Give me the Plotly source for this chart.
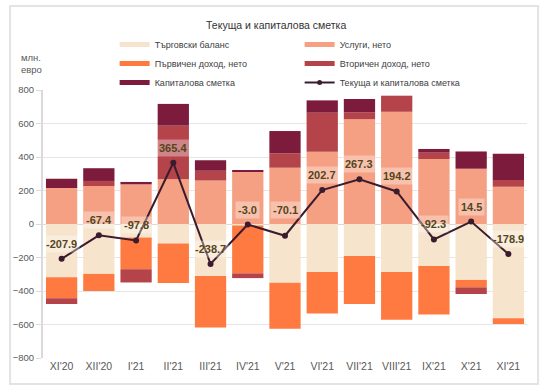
import plotly.graph_objects as go

categories = ["XI'20", "XII'20", "I'21", "II'21", "III'21", "IV'21", "V'21",
              "VI'21", "VII'21", "VIII'21", "IX'21", "X'21", "XI'21"]
trade = [-318, -298, -80, -117, -310, -9, -350, -287, -191, -287, -251, -334, -563]
services = [215, 227, 237, 267, 259, 312, 336, 432, 625, 670, 388, 330, 223]
primary = [-126, -102, -190, -235, -308, -286, -275, -248, -287, -285, -289, -44, -34]
secondary = [-34, 30, -79, 320, 59, -28, 86, 233, 42, 96, 38, -40, 40]
capital = [55, 76, 14, 130, 62, 8, 133, 73, 79, 0, 22, 103, 156]
total = [-207.9, -67.4, -97.8, 365.4, -238.7, -3.0, -70.1, 202.7, 267.3, 194.2, -92.3, 14.5, -178.9]

names = ["Търговски баланс", "Услуги, нето", "Първичен доход, нето",
         "Вторичен доход, нето", "Капиталова сметка", "Текуща и капиталова сметка"]
colors = ["#F6E4CC", "#F5A083", "#FF7A40", "#B5434A", "#7D1B3C", "#3A1C2E"]
label_shift = [15, 15, 15, 15, 15, 15, 26, 15, 15, 15, 15, 15, 15]

FONT = "Liberation Sans, Arial, sans-serif"

fig = go.Figure()
series = [trade, services, primary, secondary, capital]
for name, vals, col in zip(names[:5], series, colors[:5]):
    fig.add_trace(go.Bar(x=categories, y=vals, name=name, marker_color=col,
                         marker_line_width=0, showlegend=False, hoverinfo="y+name"))

fig.add_trace(go.Scatter(x=categories, y=total, mode="lines+markers", name=names[5],
                         line=dict(color=colors[5], width=2),
                         marker=dict(size=6, color=colors[5]), showlegend=False))

# legend entries (wide line symbols like the reference)
for name, col in zip(names[:5], colors[:5]):
    fig.add_trace(go.Scatter(x=[categories[0]], y=[None], mode="lines", name=name,
                             line=dict(color=col, width=5)))
fig.add_trace(go.Scatter(x=[categories[0]], y=[None], mode="lines+markers", name=names[5],
                         line=dict(color=colors[5], width=2),
                         marker=dict(size=5, color=colors[5])))

for c, v, s in zip(categories, total, label_shift):
    fig.add_annotation(x=c, y=v, text=f"<b>{v:.1f}</b>", showarrow=False,
                       yshift=s, font=dict(size=11, color="#54461A", family=FONT),
                       bgcolor="rgba(255,255,255,0.35)", borderpad=2)

fig.add_annotation(text="Текуща и капиталова сметка", xref="paper", yref="paper",
                   x=0.481, y=1.243, xanchor="center", yanchor="middle", showarrow=False,
                   font=dict(size=10.5, color="#333333", family=FONT))
fig.add_annotation(text="млн.<br>евро", xref="paper", yref="paper", x=-0.05, y=1.1,
                   xanchor="left", yanchor="middle", showarrow=False, align="left",
                   font=dict(size=9.5, color="#595959", family=FONT))

fig.add_shape(type="rect", xref="paper", yref="paper", x0=-0.068, x1=1.023, y0=-0.097,
              y1=1.313, line=dict(color="#E3E3E3", width=2), layer="below")

fig.update_layout(
    width=542, height=390,
    margin=dict(l=43, r=15, t=90, b=32, autoexpand=False),
    barmode="relative", bargap=0.16,
    plot_bgcolor="white", paper_bgcolor="white",
    font=dict(family=FONT, size=10, color="#595959"),
    legend=dict(orientation="h", x=0.148, y=1.224, xanchor="left", yanchor="top",
                entrywidth=140, entrywidthmode="pixels", itemwidth=30,
                font=dict(size=9, color="#404040", family=FONT),
                traceorder="normal", bgcolor="rgba(0,0,0,0)", tracegroupgap=0),
    xaxis=dict(showgrid=False, showline=False, ticks="", tickfont=dict(size=10.5),
               type="category", range=[-0.5, len(categories) - 0.5]),
    yaxis=dict(range=[-800, 800], dtick=200, showgrid=True, gridcolor="#E6E6E6",
               showline=True, linecolor="#DADADA", linewidth=2,
               ticks="outside", ticklen=5, tickcolor="#DADADA", tickwidth=1,
               zeroline=True, zerolinecolor="#DADADA", zerolinewidth=1,
               tickfont=dict(size=9.5)),
    showlegend=True,
)

fig.write_html("out.html", post_script="document.body.style.margin='0';",
               config={"displayModeBar": False})
